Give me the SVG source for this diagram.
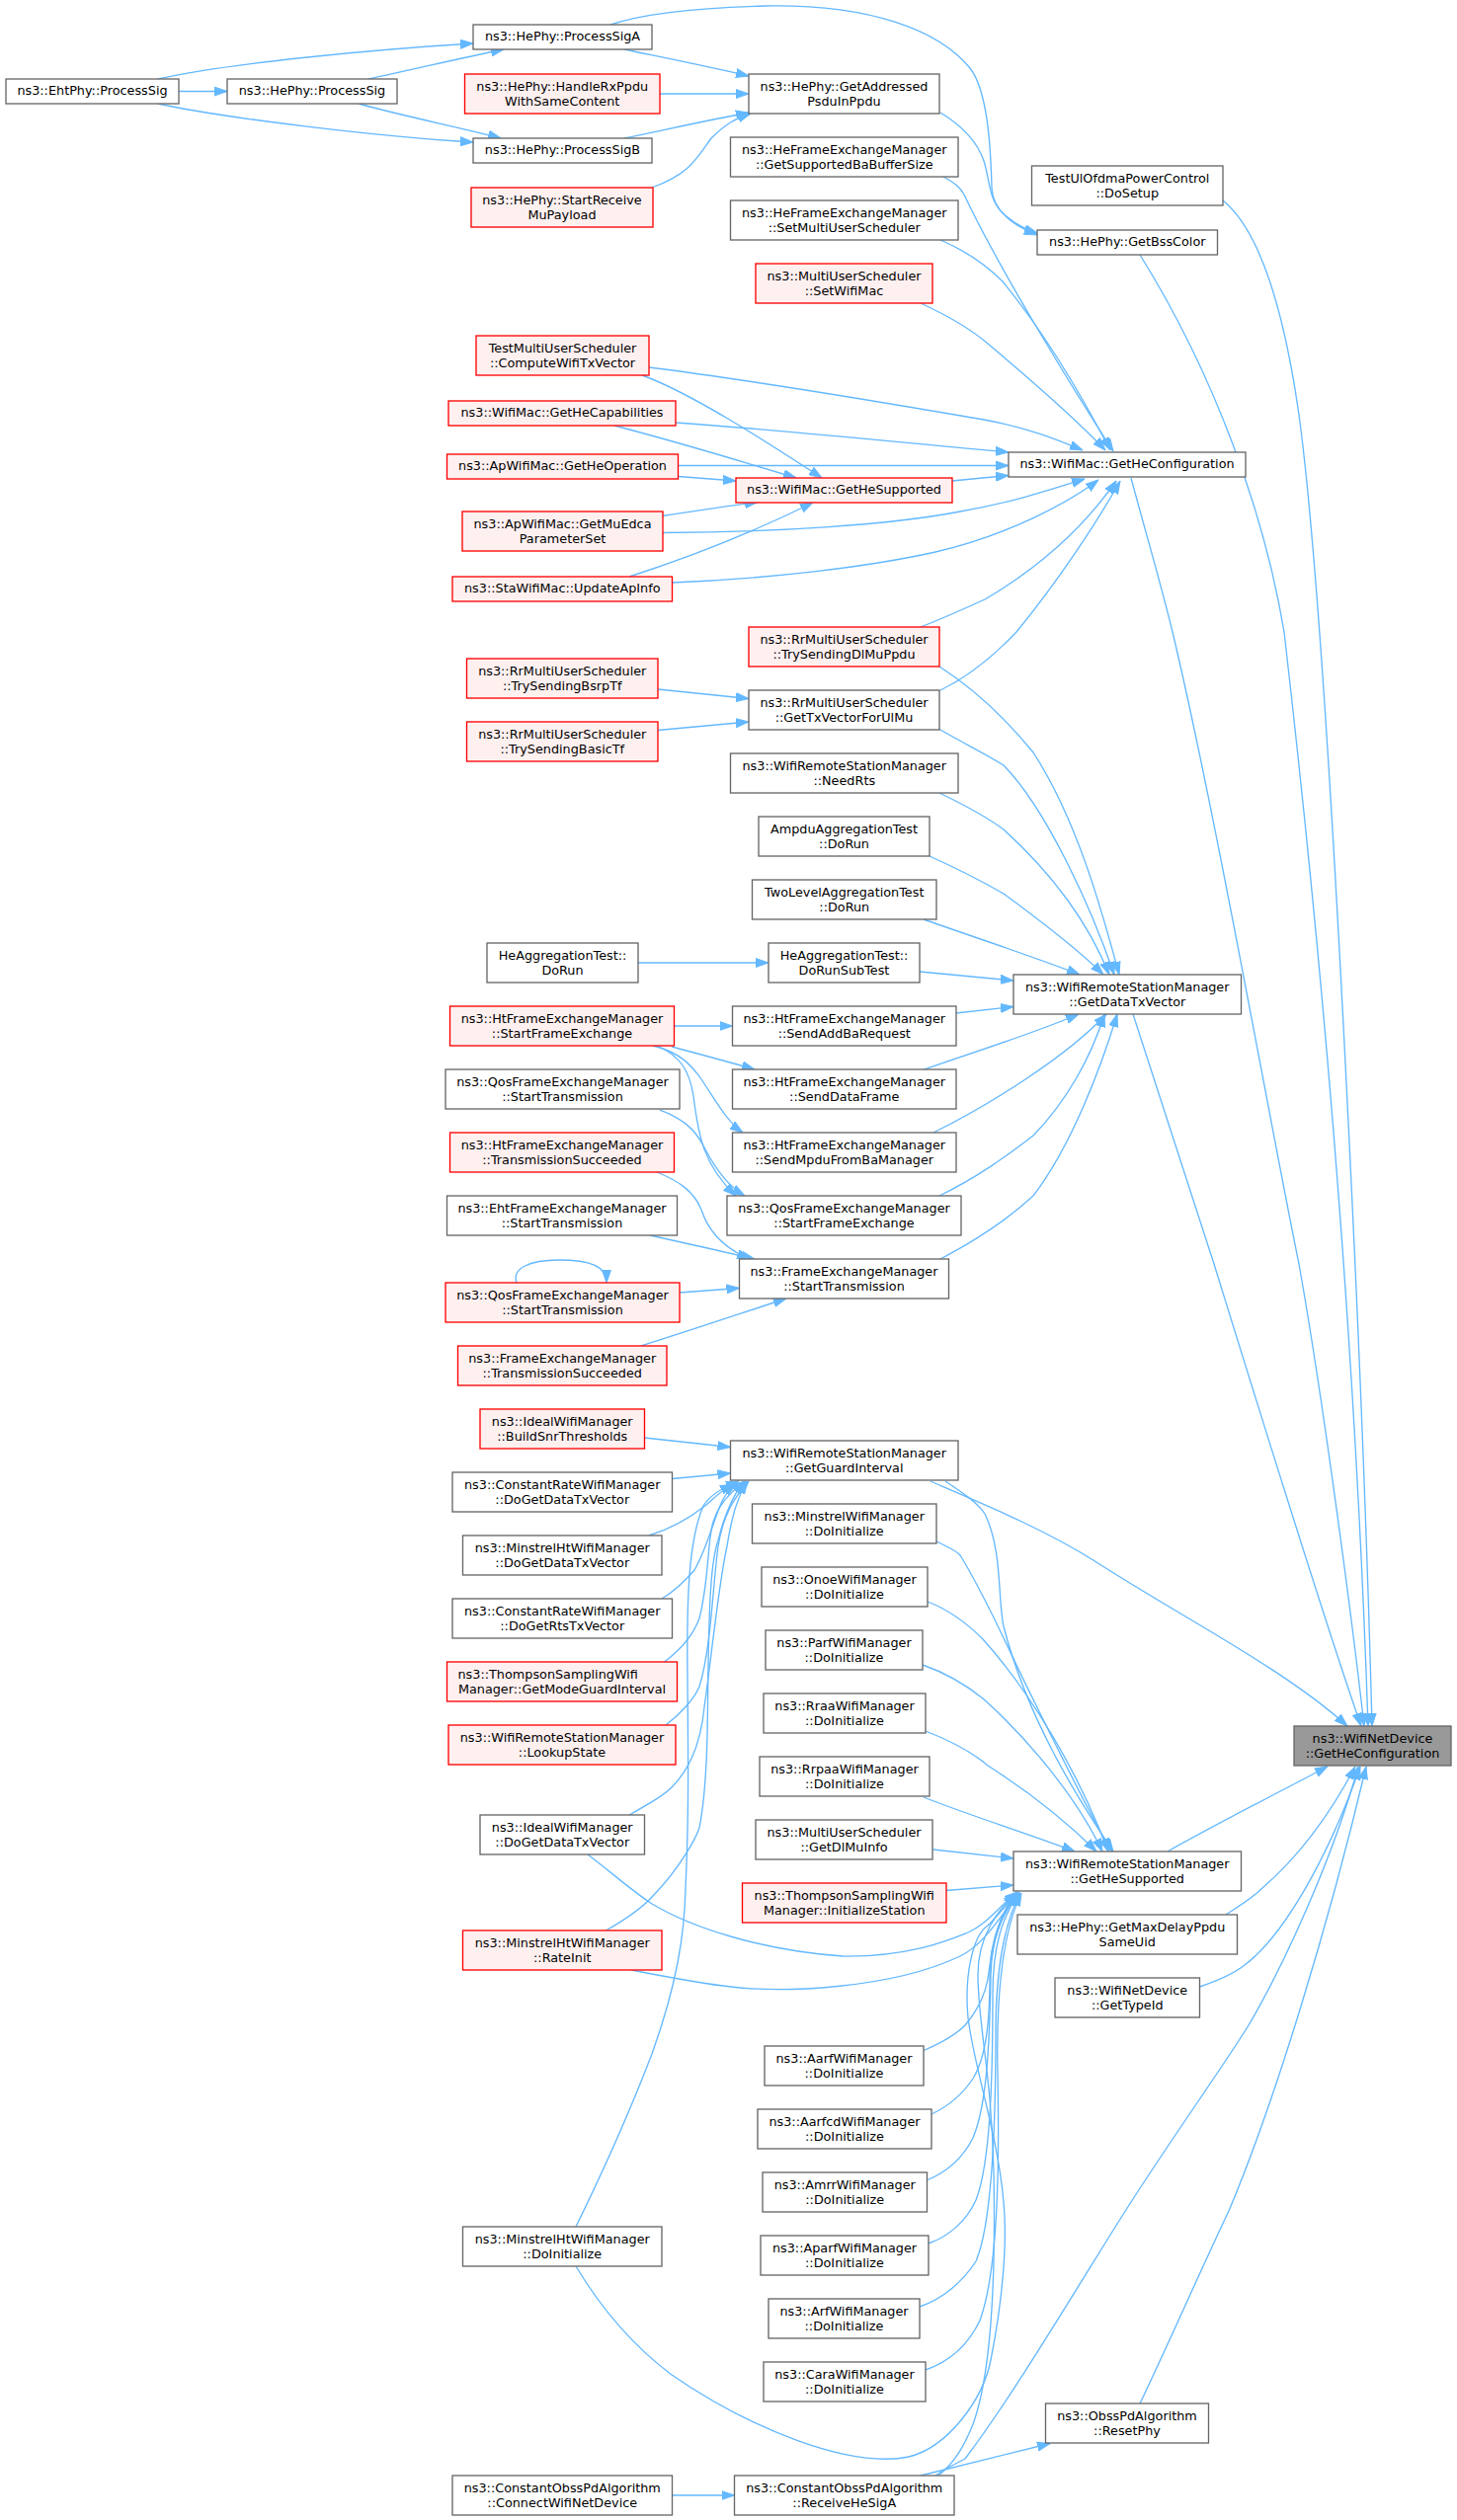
<svg xmlns="http://www.w3.org/2000/svg" width="1475" height="2552" viewBox="0 0 1475 2552">
<style>
rect{stroke-width:1.33}
.w rect{fill:#ffffff;stroke:#666666}
.r rect{fill:#fff0f0;stroke:#ff0000}
.g rect{fill:#999999;stroke:#666666}
text{font-family:"DejaVu Sans","Liberation Sans",sans-serif;font-size:12.8px;text-anchor:middle;fill:#000000}
text.s{text-anchor:start}
#edges path{fill:none;stroke:#63b8ff;stroke-width:1.33;marker-end:url(#ah)}
</style>
<defs>
<marker id="ah" markerWidth="13" markerHeight="10" refX="13" refY="5" orient="auto" markerUnits="userSpaceOnUse" viewBox="0 0 13 10"><path d="M0,0.5 L13,5 L0,9.5 z" fill="#63b8ff" stroke="#63b8ff" stroke-width="1"/></marker>
</defs>
<rect x="0" y="0" width="1475" height="2552" fill="#ffffff"/>
<g id="edges">
<path d="M181,92.5 L230,92.5"/>
<path d="M160,80 C230,64 380,50 479,44"/>
<path d="M160,105 C230,120 380,138 479,144"/>
<path d="M373,80 C420,70 470,58 510,50"/>
<path d="M363,105 C410,118 470,130 507,140"/>
<path d="M632,50 C680,60 720,68 758,77"/>
<path d="M668,95 L758,95"/>
<path d="M632,140 C680,130 720,121 758,114"/>
<path d="M660,190 C700,175 705,160 720,140 C735,125 745,120 760,115"/>
<path d="M618,25 C650,14 700,8 774,6 C880,4 950,30 982,69 C1000,92 1003,150 1004,190 C1005,215 1030,230 1050,238"/>
<path d="M952,114 C975,128 990,145 996,163 C1003,185 1000,205 1020,220 C1030,228 1040,233 1050,236"/>
<path d="M1154,258 C1230,380 1280,520 1300,640 C1330,900 1370,1300 1385,1748"/>
<path d="M1238,203 C1265,225 1295,280 1315,420 C1345,640 1380,1400 1389,1748"/>
<path d="M955,179 C968,186 972,190 976,197 C1010,270 1090,400 1127,457"/>
<path d="M952,243 C980,255 1000,270 1015,285 C1060,340 1100,410 1124,456"/>
<path d="M932,307 C960,320 985,335 1000,348 C1050,390 1090,425 1119,456"/>
<path d="M657,372 C760,385 880,405 996,425 C1040,433 1070,445 1096,456"/>
<path d="M650,380 C700,398 780,450 832,484"/>
<path d="M684,428 C800,436 930,450 1021,458"/>
<path d="M622,431 C680,446 760,470 806,484"/>
<path d="M686.5,471.5 L1021,471.5"/>
<path d="M686.5,482.5 L745,487"/>
<path d="M670.5,522.5 C700,518 740,512 767,508.5"/>
<path d="M670.5,539.5 C780,539 900,532 972,518 C1020,510 1060,497 1098,485"/>
<path d="M637,584 C690,567 760,540 823,509"/>
<path d="M680.5,590 C780,586 880,574 947,559 C1020,542 1080,510 1112,486"/>
<path d="M964,487 L1021,481.5"/>
<path d="M932,635 C950,628 975,617 997,607 C1060,570 1100,530 1130,487"/>
<path d="M952,699 C985,683 1010,660 1029,640 C1070,590 1110,530 1134,487"/>
<path d="M666,698 L758,707.5"/>
<path d="M666,739.5 L758,731"/>
<path d="M951,675 C990,700 1020,730 1046,762 C1090,830 1115,920 1133,987"/>
<path d="M951,738.5 C980,755 1000,765 1016,775 C1060,820 1105,920 1128,987"/>
<path d="M951,803 C980,817 1000,828 1016,840 C1060,880 1100,930 1123,987"/>
<path d="M941,867 C970,880 995,893 1016,905 C1050,930 1090,960 1117,987"/>
<path d="M935,931 C980,947 1050,970 1093,987"/>
<path d="M646,975 L778,975"/>
<path d="M931,984 L1026,993"/>
<path d="M682.5,1039 L741.5,1039"/>
<path d="M968,1026 L1026,1019.5"/>
<path d="M680,1060 C710,1068 740,1076 764,1083"/>
<path d="M935,1083 C980,1068 1050,1045 1092,1027"/>
<path d="M661,1059 C690,1066 700,1080 708,1090 C725,1115 735,1135 752,1147"/>
<path d="M945,1147 C1000,1120 1080,1070 1120,1027"/>
<path d="M665,1059 C690,1070 698,1085 702,1110 C707,1150 712,1180 745,1211"/>
<path d="M668,1124 C690,1132 703,1143 712,1160 C722,1180 735,1200 754,1211"/>
<path d="M665,1187 C690,1197 703,1208 710,1225 C718,1250 735,1265 759,1275"/>
<path d="M658,1251 C690,1258 730,1267 764,1275"/>
<path d="M951,1211 C990,1192 1020,1170 1046,1150 C1080,1115 1105,1070 1118,1027"/>
<path d="M952,1275 C990,1255 1020,1235 1046,1211 C1085,1160 1115,1080 1131,1027"/>
<path d="M688,1309 L748.5,1304.5"/>
<path d="M523,1299 C518,1285 535,1276 566,1276 C597,1276 614,1282 614,1299"/>
<path d="M649,1363 C700,1347 750,1330 796,1315"/>
<path d="M1147,1027 C1180,1130 1210,1220 1229,1280 C1260,1380 1340,1640 1378,1748"/>
<path d="M1145,484 C1160,540 1175,590 1187,640 C1230,820 1290,1160 1315,1280 C1340,1420 1370,1650 1381,1748"/>
<path d="M942,1500 C1000,1525 1060,1550 1110,1582 C1200,1640 1300,1690 1364,1748"/>
<path d="M957,1500 C975,1512 990,1522 997,1533 C1015,1570 1010,1620 1016,1647 C1040,1740 1090,1820 1127,1875"/>
<path d="M948,1561 C960,1567 968,1570 972,1575 C1000,1620 1025,1680 1046,1721 C1075,1780 1105,1840 1125,1875"/>
<path d="M939,1622 C960,1630 980,1645 995,1660 C1040,1710 1090,1790 1122,1875"/>
<path d="M934,1686 C960,1695 980,1708 995,1720 C1040,1760 1090,1820 1116,1875"/>
<path d="M937,1753 C960,1762 985,1775 1000,1788 C1050,1820 1085,1850 1110,1875"/>
<path d="M935,1820 C980,1838 1050,1860 1088,1875"/>
<path d="M944.5,1873 L1026,1882"/>
<path d="M958,1914.5 L1026,1909"/>
<path d="M595,1878 C620,1897 640,1915 660,1928 C700,1952 770,1975 853,1981 C920,1982 960,1965 980,1957 C1000,1948 1012,1930 1030,1916"/>
<path d="M639,1995 C680,2003 720,2010 740,2012 C790,2018 900,2015 972,1981 C995,1970 1010,1945 1032,1916"/>
<path d="M583,2295 C610,2340 640,2375 680,2405 C760,2460 860,2500 920,2488 C960,2478 995,2430 1003,2390 C1015,2330 1020,2270 1016,2230 C1010,2160 985,2090 980,2043 C976,2000 985,1960 1000,1950 C1010,1940 1020,1928 1030,1916"/>
<path d="M583,2255 C610,2200 637,2140 660,2080 C685,2010 693,1960 694,1912 C697,1850 697,1800 696,1700 C695,1620 697,1560 712,1525 C720,1512 735,1505 748,1500"/>
<path d="M613.5,1955 C640,1940 652,1930 661,1920 C690,1890 705,1860 708,1851 C718,1800 716,1720 717,1688 C718,1620 720,1580 727,1560 C733,1535 742,1515 753,1500"/>
<path d="M637,1838 C660,1825 672,1818 680,1810 C700,1790 710,1760 713,1729 C720,1680 728,1600 736,1566 C740,1540 745,1520 756,1500"/>
<path d="M674,1747 C690,1735 703,1720 708,1708 C720,1670 722,1600 727,1566 C732,1535 742,1518 758,1500"/>
<path d="M672.5,1683 C690,1670 702,1655 708,1639 C718,1600 716,1560 722,1541 C728,1522 740,1510 755,1500"/>
<path d="M670,1619 C685,1610 697,1597 703,1590 C712,1575 718,1555 727,1530 C732,1515 738,1508 745,1503"/>
<path d="M657,1555 C680,1548 700,1536 715,1524 C725,1515 732,1508 742,1503"/>
<path d="M680.5,1497.5 L739.5,1492"/>
<path d="M652.5,1456 L739.5,1465.5"/>
<path d="M935,2076.5 C955,2068 970,2058 977,2051 C995,2030 1000,2010 1001.5,1994 C1005,1960 1015,1935 1028,1917"/>
<path d="M943,2141 C960,2133 975,2120 985,2105 C1000,2080 1002,2040 1002,2000 C1003,1965 1012,1940 1030,1917"/>
<path d="M938,2208 C958,2200 975,2185 985,2165 C1000,2130 1002,2060 1003,2000 C1004,1965 1013,1940 1031,1917"/>
<path d="M940,2272 C960,2265 978,2250 988,2228 C1003,2190 1005,2100 1005,2020 C1005,1970 1015,1940 1032,1917"/>
<path d="M931,2336 C955,2328 975,2310 988,2290 C1005,2250 1008,2150 1008,2060 C1008,1990 1018,1945 1033,1917"/>
<path d="M937,2400 C960,2392 980,2375 992,2350 C1010,2300 1012,2200 1010,2100 C1008,2010 1018,1950 1034,1917"/>
<path d="M950,2507 C965,2495 975,2480 985,2455 C1005,2400 1008,2300 1006,2200 C1004,2100 990,2050 990,2000 C990,1960 1010,1935 1029,1917"/>
<path d="M947,2507 C960,2498 970,2494 977,2490 C1030,2420 1100,2300 1145,2230 C1190,2160 1240,2090 1264,2051 C1300,1990 1350,1880 1375,1789"/>
<path d="M932,2507 L1063,2474.5"/>
<path d="M680.5,2527 L743.5,2527"/>
<path d="M1154,2434 C1180,2380 1215,2300 1244,2239 C1290,2130 1345,1950 1383,1789"/>
<path d="M1214.5,2012 C1235,2005 1250,1998 1260,1990 C1300,1960 1345,1880 1377,1789"/>
<path d="M1241,1939 C1255,1930 1268,1922 1278,1912 C1315,1880 1345,1840 1372,1789"/>
<path d="M1182,1875 C1230,1848 1300,1812 1344,1789"/>
</g>
<g id="n_EhtPhy_ProcessSig" class="w"><rect x="6" y="80" width="175" height="25"/><text x="93.5" y="96.3">ns3::EhtPhy::ProcessSig</text></g>
<g id="n_HePhy_ProcessSig" class="w"><rect x="230" y="80" width="172" height="25"/><text x="316" y="96.3">ns3::HePhy::ProcessSig</text></g>
<g id="n_HePhy_ProcessSigA" class="w"><rect x="479" y="25" width="181" height="25"/><text x="569.5" y="41.3">ns3::HePhy::ProcessSigA</text></g>
<g id="n_HePhy_HandleRxPpdu" class="r"><rect x="470.5" y="75" width="197.5" height="40"/><text x="569.25" y="91.7">ns3::HePhy::HandleRxPpdu</text><text x="569.25" y="106.5">WithSameContent</text></g>
<g id="n_HePhy_ProcessSigB" class="w"><rect x="479" y="140" width="181" height="25"/><text x="569.5" y="156.3">ns3::HePhy::ProcessSigB</text></g>
<g id="n_HePhy_StartReceiveMuPayload" class="r"><rect x="477" y="190" width="184" height="40"/><text x="569" y="206.7">ns3::HePhy::StartReceive</text><text x="569" y="221.5">MuPayload</text></g>
<g id="n_TestMUS_ComputeWifiTxVector" class="r"><rect x="482" y="340" width="175" height="40"/><text x="569.5" y="356.7">TestMultiUserScheduler</text><text x="569.5" y="371.5">::ComputeWifiTxVector</text></g>
<g id="n_WifiMac_GetHeCapabilities" class="r"><rect x="454" y="406" width="230" height="25"/><text x="569" y="422.3">ns3::WifiMac::GetHeCapabilities</text></g>
<g id="n_ApWifiMac_GetHeOperation" class="r"><rect x="452.5" y="460" width="234" height="25"/><text x="569.5" y="476.3">ns3::ApWifiMac::GetHeOperation</text></g>
<g id="n_ApWifiMac_GetMuEdcaParameterSet" class="r"><rect x="468" y="518" width="203" height="40"/><text x="569.5" y="534.7">ns3::ApWifiMac::GetMuEdca</text><text x="569.5" y="549.5">ParameterSet</text></g>
<g id="n_StaWifiMac_UpdateApInfo" class="r"><rect x="458" y="584" width="222.5" height="25"/><text x="569.25" y="600.3">ns3::StaWifiMac::UpdateApInfo</text></g>
<g id="n_RrMUS_TrySendingBsrpTf" class="r"><rect x="472.5" y="667" width="193.5" height="40"/><text x="569.25" y="683.7">ns3::RrMultiUserScheduler</text><text x="569.25" y="698.5">::TrySendingBsrpTf</text></g>
<g id="n_RrMUS_TrySendingBasicTf" class="r"><rect x="472.5" y="731" width="193.5" height="40"/><text x="569.25" y="747.7">ns3::RrMultiUserScheduler</text><text x="569.25" y="762.5">::TrySendingBasicTf</text></g>
<g id="n_HeAggregationTest_DoRun" class="w"><rect x="493" y="955" width="153" height="40"/><text x="569.5" y="971.7">HeAggregationTest::</text><text x="569.5" y="986.5">DoRun</text></g>
<g id="n_HtFEM_StartFrameExchange" class="r"><rect x="455.5" y="1019" width="227" height="40"/><text x="569" y="1035.7">ns3::HtFrameExchangeManager</text><text x="569" y="1050.5">::StartFrameExchange</text></g>
<g id="n_QosFEM_StartTransmission_a" class="w"><rect x="451" y="1083" width="237" height="40"/><text x="569.5" y="1099.7">ns3::QosFrameExchangeManager</text><text x="569.5" y="1114.5">::StartTransmission</text></g>
<g id="n_HtFEM_TransmissionSucceeded" class="r"><rect x="455.5" y="1147" width="227" height="40"/><text x="569" y="1163.7">ns3::HtFrameExchangeManager</text><text x="569" y="1178.5">::TransmissionSucceeded</text></g>
<g id="n_EhtFEM_StartTransmission" class="w"><rect x="452.5" y="1211" width="233" height="40"/><text x="569" y="1227.7">ns3::EhtFrameExchangeManager</text><text x="569" y="1242.5">::StartTransmission</text></g>
<g id="n_QosFEM_StartTransmission_b" class="r"><rect x="451" y="1299" width="237" height="40"/><text x="569.5" y="1315.7">ns3::QosFrameExchangeManager</text><text x="569.5" y="1330.5">::StartTransmission</text></g>
<g id="n_FEM_TransmissionSucceeded" class="r"><rect x="463.5" y="1363" width="211.5" height="40"/><text x="569.25" y="1379.7">ns3::FrameExchangeManager</text><text x="569.25" y="1394.5">::TransmissionSucceeded</text></g>
<g id="n_Ideal_BuildSnrThresholds" class="r"><rect x="486" y="1427" width="166.5" height="40"/><text x="569.25" y="1443.7">ns3::IdealWifiManager</text><text x="569.25" y="1458.5">::BuildSnrThresholds</text></g>
<g id="n_ConstantRate_DoGetDataTxVector" class="w"><rect x="458" y="1491" width="222.5" height="40"/><text x="569.25" y="1507.7">ns3::ConstantRateWifiManager</text><text x="569.25" y="1522.5">::DoGetDataTxVector</text></g>
<g id="n_MinstrelHt_DoGetDataTxVector" class="w"><rect x="468.5" y="1555" width="201.5" height="40"/><text x="569.25" y="1571.7">ns3::MinstrelHtWifiManager</text><text x="569.25" y="1586.5">::DoGetDataTxVector</text></g>
<g id="n_ConstantRate_DoGetRtsTxVector" class="w"><rect x="458" y="1619" width="222.5" height="40"/><text x="569.25" y="1635.7">ns3::ConstantRateWifiManager</text><text x="569.25" y="1650.5">::DoGetRtsTxVector</text></g>
<g id="n_Thompson_GetModeGuardInterval" class="r"><rect x="452.5" y="1683" width="233" height="40"/><text class="s" x="463.5" y="1699.7">ns3::ThompsonSamplingWifi</text><text x="569" y="1714.5">Manager::GetModeGuardInterval</text></g>
<g id="n_WRSM_LookupState" class="r"><rect x="454" y="1747" width="230" height="40"/><text x="569" y="1763.7">ns3::WifiRemoteStationManager</text><text x="569" y="1778.5">::LookupState</text></g>
<g id="n_Ideal_DoGetDataTxVector" class="w"><rect x="486" y="1838" width="166.5" height="40"/><text x="569.25" y="1854.7">ns3::IdealWifiManager</text><text x="569.25" y="1869.5">::DoGetDataTxVector</text></g>
<g id="n_MinstrelHt_RateInit" class="r"><rect x="468.5" y="1955" width="201.5" height="40"/><text x="569.25" y="1971.7">ns3::MinstrelHtWifiManager</text><text x="569.25" y="1986.5">::RateInit</text></g>
<g id="n_MinstrelHt_DoInitialize" class="w"><rect x="468.5" y="2255" width="201.5" height="40"/><text x="569.25" y="2271.7">ns3::MinstrelHtWifiManager</text><text x="569.25" y="2286.5">::DoInitialize</text></g>
<g id="n_ConstantObssPd_ConnectWifiNetDevice" class="w"><rect x="458" y="2507" width="222.5" height="40"/><text x="569.25" y="2523.7">ns3::ConstantObssPdAlgorithm</text><text x="569.25" y="2538.5">::ConnectWifiNetDevice</text></g>
<g id="n_HePhy_GetAddressedPsduInPpdu" class="w"><rect x="758" y="75" width="193" height="40"/><text x="854.5" y="91.7">ns3::HePhy::GetAddressed</text><text x="854.5" y="106.5">PsduInPpdu</text></g>
<g id="n_HeFEM_GetSupportedBaBufferSize" class="w"><rect x="739.5" y="139" width="230.5" height="40"/><text x="854.75" y="155.7">ns3::HeFrameExchangeManager</text><text x="854.75" y="170.5">::GetSupportedBaBufferSize</text></g>
<g id="n_HeFEM_SetMultiUserScheduler" class="w"><rect x="739.5" y="203" width="230.5" height="40"/><text x="854.75" y="219.7">ns3::HeFrameExchangeManager</text><text x="854.75" y="234.5">::SetMultiUserScheduler</text></g>
<g id="n_MUS_SetWifiMac" class="r"><rect x="765" y="267" width="179" height="40"/><text x="854.5" y="283.7">ns3::MultiUserScheduler</text><text x="854.5" y="298.5">::SetWifiMac</text></g>
<g id="n_WifiMac_GetHeSupported" class="r"><rect x="745" y="484" width="219" height="25"/><text x="854.5" y="500.3">ns3::WifiMac::GetHeSupported</text></g>
<g id="n_RrMUS_TrySendingDlMuPpdu" class="r"><rect x="758" y="635" width="193" height="40"/><text x="854.5" y="651.7">ns3::RrMultiUserScheduler</text><text x="854.5" y="666.5">::TrySendingDlMuPpdu</text></g>
<g id="n_RrMUS_GetTxVectorForUlMu" class="w"><rect x="758" y="699" width="193" height="40"/><text x="854.5" y="715.7">ns3::RrMultiUserScheduler</text><text x="854.5" y="730.5">::GetTxVectorForUlMu</text></g>
<g id="n_WRSM_NeedRts" class="w"><rect x="739.5" y="763" width="230.5" height="40"/><text x="854.75" y="779.7">ns3::WifiRemoteStationManager</text><text x="854.75" y="794.5">::NeedRts</text></g>
<g id="n_AmpduAggregationTest_DoRun" class="w"><rect x="768" y="827" width="173" height="40"/><text x="854.5" y="843.7">AmpduAggregationTest</text><text x="854.5" y="858.5">::DoRun</text></g>
<g id="n_TwoLevelAggregationTest_DoRun" class="w"><rect x="761.5" y="891" width="186.5" height="40"/><text x="854.75" y="907.7">TwoLevelAggregationTest</text><text x="854.75" y="922.5">::DoRun</text></g>
<g id="n_HeAggregationTest_DoRunSubTest" class="w"><rect x="778" y="955" width="153" height="40"/><text x="854.5" y="971.7">HeAggregationTest::</text><text x="854.5" y="986.5">DoRunSubTest</text></g>
<g id="n_HtFEM_SendAddBaRequest" class="w"><rect x="741.5" y="1019" width="226.5" height="40"/><text x="854.75" y="1035.7">ns3::HtFrameExchangeManager</text><text x="854.75" y="1050.5">::SendAddBaRequest</text></g>
<g id="n_HtFEM_SendDataFrame" class="w"><rect x="741.5" y="1083" width="226.5" height="40"/><text x="854.75" y="1099.7">ns3::HtFrameExchangeManager</text><text x="854.75" y="1114.5">::SendDataFrame</text></g>
<g id="n_HtFEM_SendMpduFromBaManager" class="w"><rect x="741.5" y="1147" width="226.5" height="40"/><text x="854.75" y="1163.7">ns3::HtFrameExchangeManager</text><text x="854.75" y="1178.5">::SendMpduFromBaManager</text></g>
<g id="n_QosFEM_StartFrameExchange" class="w"><rect x="736" y="1211" width="237" height="40"/><text x="854.5" y="1227.7">ns3::QosFrameExchangeManager</text><text x="854.5" y="1242.5">::StartFrameExchange</text></g>
<g id="n_FEM_StartTransmission" class="w"><rect x="748.5" y="1275" width="212" height="40"/><text x="854.5" y="1291.7">ns3::FrameExchangeManager</text><text x="854.5" y="1306.5">::StartTransmission</text></g>
<g id="n_WRSM_GetGuardInterval" class="w"><rect x="739.5" y="1459" width="230.5" height="40"/><text x="854.75" y="1475.7">ns3::WifiRemoteStationManager</text><text x="854.75" y="1490.5">::GetGuardInterval</text></g>
<g id="n_Minstrel_DoInitialize" class="w"><rect x="761.5" y="1523" width="186.5" height="40"/><text x="854.75" y="1539.7">ns3::MinstrelWifiManager</text><text x="854.75" y="1554.5">::DoInitialize</text></g>
<g id="n_Onoe_DoInitialize" class="w"><rect x="771" y="1587" width="168" height="40"/><text x="855" y="1603.7">ns3::OnoeWifiManager</text><text x="855" y="1618.5">::DoInitialize</text></g>
<g id="n_Parf_DoInitialize" class="w"><rect x="775" y="1651" width="159" height="40"/><text x="854.5" y="1667.7">ns3::ParfWifiManager</text><text x="854.5" y="1682.5">::DoInitialize</text></g>
<g id="n_Rraa_DoInitialize" class="w"><rect x="773" y="1715" width="164" height="40"/><text x="855" y="1731.7">ns3::RraaWifiManager</text><text x="855" y="1746.5">::DoInitialize</text></g>
<g id="n_Rrpaa_DoInitialize" class="w"><rect x="769" y="1779" width="172" height="40"/><text x="855" y="1795.7">ns3::RrpaaWifiManager</text><text x="855" y="1810.5">::DoInitialize</text></g>
<g id="n_MUS_GetDlMuInfo" class="w"><rect x="765" y="1843" width="179" height="40"/><text x="854.5" y="1859.7">ns3::MultiUserScheduler</text><text x="854.5" y="1874.5">::GetDlMuInfo</text></g>
<g id="n_Thompson_InitializeStation" class="r"><rect x="751.5" y="1907" width="206.5" height="40"/><text x="854.75" y="1923.7">ns3::ThompsonSamplingWifi</text><text x="854.75" y="1938.5">Manager::InitializeStation</text></g>
<g id="n_Aarf_DoInitialize" class="w"><rect x="774" y="2072" width="161" height="40"/><text x="854.5" y="2088.7">ns3::AarfWifiManager</text><text x="854.5" y="2103.5">::DoInitialize</text></g>
<g id="n_Aarfcd_DoInitialize" class="w"><rect x="767" y="2136" width="176" height="40"/><text x="855" y="2152.7">ns3::AarfcdWifiManager</text><text x="855" y="2167.5">::DoInitialize</text></g>
<g id="n_Amrr_DoInitialize" class="w"><rect x="772" y="2200" width="166.5" height="40"/><text x="855.25" y="2216.7">ns3::AmrrWifiManager</text><text x="855.25" y="2231.5">::DoInitialize</text></g>
<g id="n_Aparf_DoInitialize" class="w"><rect x="770" y="2264" width="170" height="40"/><text x="855" y="2280.7">ns3::AparfWifiManager</text><text x="855" y="2295.5">::DoInitialize</text></g>
<g id="n_Arf_DoInitialize" class="w"><rect x="778" y="2328" width="153" height="40"/><text x="854.5" y="2344.7">ns3::ArfWifiManager</text><text x="854.5" y="2359.5">::DoInitialize</text></g>
<g id="n_Cara_DoInitialize" class="w"><rect x="773" y="2392" width="164" height="40"/><text x="855" y="2408.7">ns3::CaraWifiManager</text><text x="855" y="2423.5">::DoInitialize</text></g>
<g id="n_ConstantObssPd_ReceiveHeSigA" class="w"><rect x="743.5" y="2507" width="222.5" height="40"/><text x="854.75" y="2523.7">ns3::ConstantObssPdAlgorithm</text><text x="854.75" y="2538.5">::ReceiveHeSigA</text></g>
<g id="n_TestUlOfdma_DoSetup" class="w"><rect x="1044.5" y="168" width="193.5" height="40"/><text x="1141.25" y="184.7">TestUlOfdmaPowerControl</text><text x="1141.25" y="199.5">::DoSetup</text></g>
<g id="n_HePhy_GetBssColor" class="w"><rect x="1050" y="233" width="182.5" height="25"/><text x="1141.25" y="249.3">ns3::HePhy::GetBssColor</text></g>
<g id="n_WifiMac_GetHeConfiguration" class="w"><rect x="1021" y="458" width="240" height="25"/><text x="1141" y="474.3">ns3::WifiMac::GetHeConfiguration</text></g>
<g id="n_WRSM_GetDataTxVector" class="w"><rect x="1026" y="987" width="230.5" height="40"/><text x="1141.25" y="1003.7">ns3::WifiRemoteStationManager</text><text x="1141.25" y="1018.5">::GetDataTxVector</text></g>
<g id="n_WRSM_GetHeSupported" class="w"><rect x="1026" y="1875" width="230.5" height="40"/><text x="1141.25" y="1891.7">ns3::WifiRemoteStationManager</text><text x="1141.25" y="1906.5">::GetHeSupported</text></g>
<g id="n_HePhy_GetMaxDelayPpduSameUid" class="w"><rect x="1030" y="1939" width="222.5" height="40"/><text x="1141.25" y="1955.7">ns3::HePhy::GetMaxDelayPpdu</text><text x="1141.25" y="1970.5">SameUid</text></g>
<g id="n_WifiNetDevice_GetTypeId" class="w"><rect x="1068" y="2003" width="146.5" height="40"/><text x="1141.25" y="2019.7">ns3::WifiNetDevice</text><text x="1141.25" y="2034.5">::GetTypeId</text></g>
<g id="n_ObssPd_ResetPhy" class="w"><rect x="1058.5" y="2434" width="165" height="40"/><text x="1141" y="2450.7">ns3::ObssPdAlgorithm</text><text x="1141" y="2465.5">::ResetPhy</text></g>
<g id="n_WifiNetDevice_GetHeConfiguration" class="g"><rect x="1310" y="1748" width="159" height="40"/><text x="1389.5" y="1764.7">ns3::WifiNetDevice</text><text x="1389.5" y="1779.5">::GetHeConfiguration</text></g>
</svg>
